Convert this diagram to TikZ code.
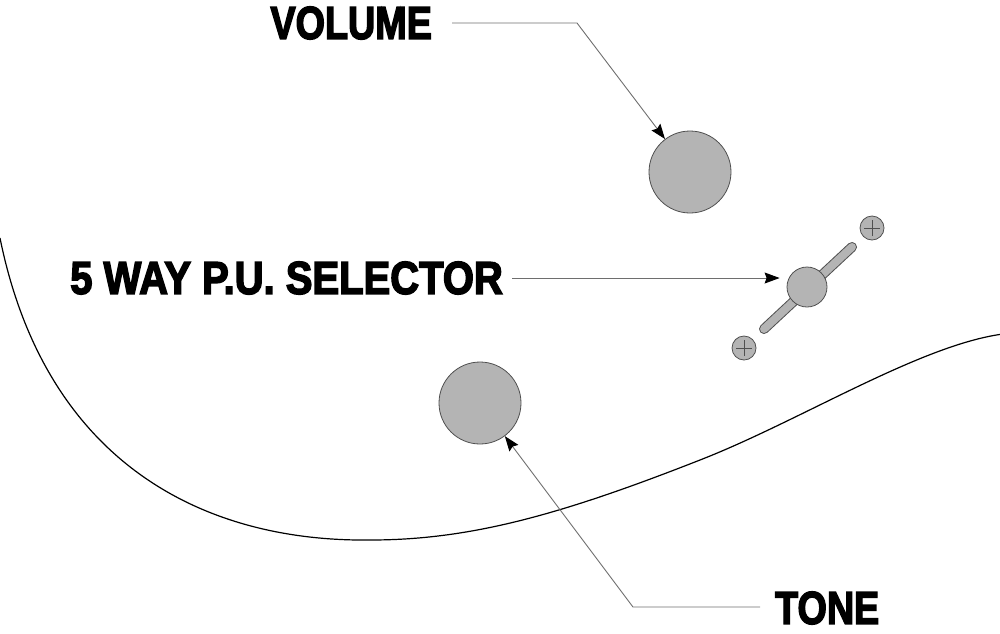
\documentclass[tikz,border=0pt]{standalone}
\usepackage{fontspec}
\newfontfamily\calloutfont{Liberation Sans}[BoldFeatures={FakeBold=3.5}]
\usetikzlibrary{arrows.meta,positioning,calc}
\definecolor{knobgray}{HTML}{B4B4B4}
\definecolor{rimgray}{HTML}{505050}
\definecolor{leadgray}{HTML}{6E6E6E}

\begin{document}
\begin{tikzpicture}[x=1pt, y=-1pt,
  every node/.style={inner sep=0pt},
  callout/.style={font=\calloutfont\bfseries\fontsize{46}{46}\selectfont, xscale=0.82},
  knob/.style={circle, draw=rimgray, fill=knobgray, line width=0.8pt, minimum size=82pt},
  screw/.style={circle, draw=rimgray, fill=knobgray, line width=0.8pt, minimum size=24pt},
  lead/.style={draw=leadgray, line width=0.9pt},
  pointer/.style={lead, -{Stealth[length=15pt, width=11pt, inset=2pt, color=black]}}]
  \useasboundingbox (0,0) rectangle (1000,633);
  \draw[line width=1.2pt] (0,238) .. controls (45,460) and (200,542) .. (370,540)
    .. controls (470,540) and (560,515) .. (700,460)
    .. controls (800,421) and (920,345) .. (1003,334);
  \node[knob] (vol) at (690,172) {};
  \node[knob] (tone) at (480,403) {};
  \coordinate (barlo) at (764,329);
  \coordinate (barhi) at (852,247);
  \draw[rimgray, line width=10pt, line cap=round] (barlo) -- (barhi);
  \draw[knobgray, line width=8pt, line cap=round] (barlo) -- (barhi);
  \node[knob, minimum size=40pt] (sel) at (807,287) {};
  \node[screw] (scrhi) at (872,228) {};
  \node[screw] (scrlo) at (744,348) {};
  \foreach \s in {scrhi,scrlo}{
    \draw[rimgray, line width=0.6pt] ([xshift=-8pt]\s.center) -- ([xshift=8pt]\s.center);
    \draw[rimgray, line width=0.6pt] ([yshift=-8pt]\s.center) -- ([yshift=8pt]\s.center);
  }
  \node[callout, anchor=east] (vollbl) at (432,23) {VOLUME};
  \node[callout, anchor=east, xscale=1.06] (sellbl) at (503,278) {5 WAY P.U. SELECTOR};
  \node[callout, anchor=west] (tonelbl) at (775,608) {TONE};
  \coordinate (volbend) at (577,23);
  \coordinate (tonebend) at (633,607);
  \draw[pointer] ([xshift=20pt]vollbl.east |- volbend) -- (volbend) -- (vol);
  \draw[pointer] ([xshift=9pt]sellbl.east) -- ([xshift=-7pt]sel.west |- sellbl.east);
  \draw[pointer] ([xshift=-15pt]tonelbl.west |- tonebend) -- (tonebend) -- (tone);
\end{tikzpicture}
\end{document}
